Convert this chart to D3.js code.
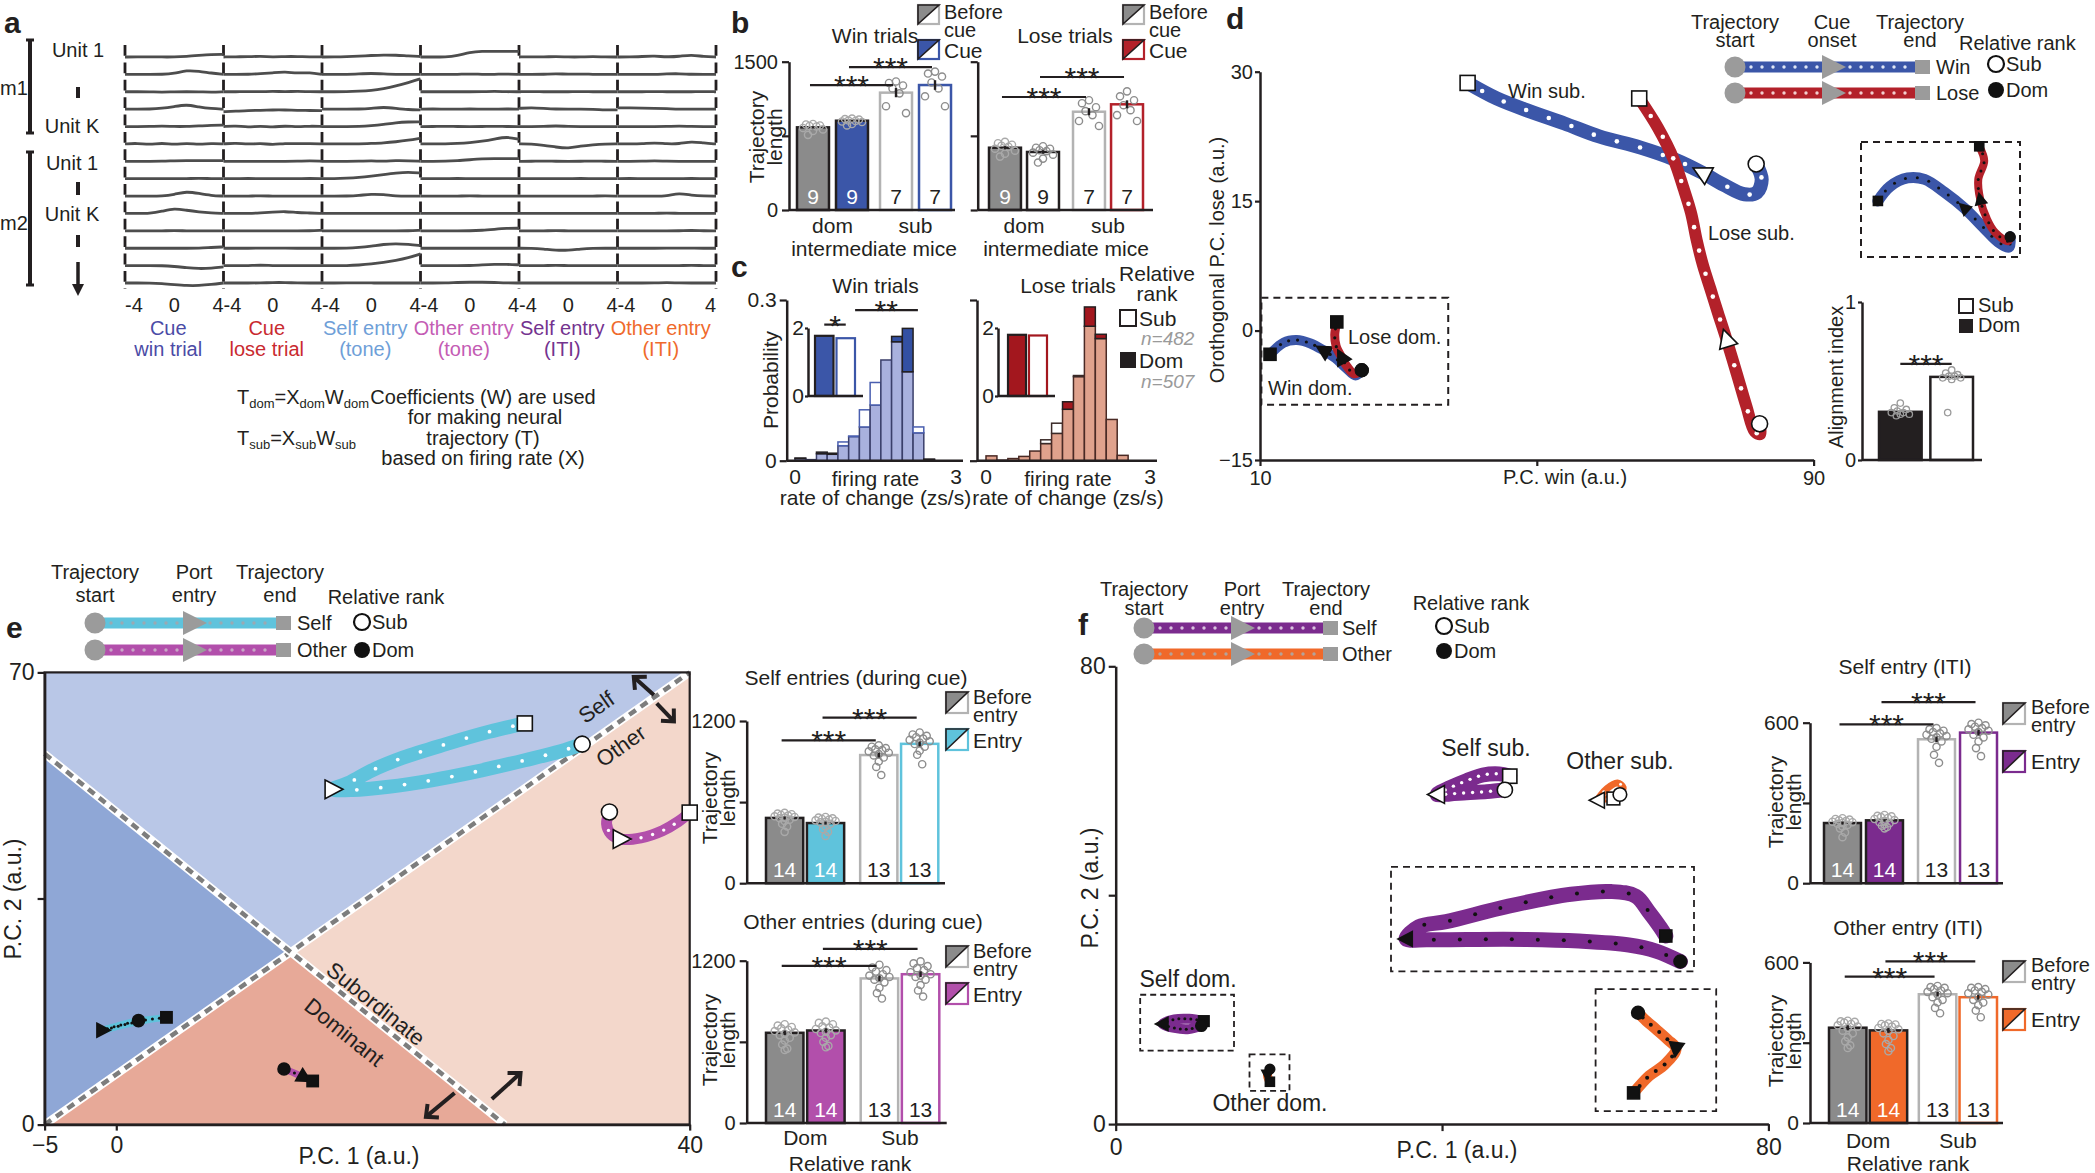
<!DOCTYPE html>
<html><head><meta charset="utf-8"><title>Neural trajectories</title>
<script src="https://cdn.jsdelivr.net/npm/d3@7/dist/d3.min.js"></script>
<style>html,body{margin:0;padding:0;background:#fff;}svg{display:block;}</style>
</head><body>
<script>
/* ===================== DATA ===================== */
// ---- panel a ----
const aSegments = ["Cue|win trial","Cue|lose trial","Self entry|(tone)","Other entry|(tone)","Self entry|(ITI)","Other entry|(ITI)"];
const aSegColors = ["#4b4ba6","#c92a30","#6f9fd8","#c45cb4","#74338f","#ef6a2c"];
const aTime = [-4,-3,-2,-1,0,1,2,3,4];
const aTickLabels = [-4,0,4];
const aRows = [
 [[0,0,0.1,0,0,0.2,0.6,1,1],[0,0.1,0.1,0.3,0,0.2,0.2,0,0.1],[0,0,0.1,0.3,0.6,0.8,0.7,0.4,0.2],[0,0,0,0.5,1.8,2.2,2.2,2.2,2.2],[0,0.1,0,0.2,0,0,0.2,0,0],[0,0,0.2,0.4,0,0.2,0.9,0.1,0]],
 [[0,0,0,0,0.3,1.6,1.2,0.5,0],[0,0,0,0.3,0.6,1,0.4,0.8,0],[0,0,0,0.2,0.4,0.2,0,0,0],[0,0,0,0,0.2,0,0,0.2,0],[0,0,0,0.3,0,0.2,0,0,0],[0,0,0,0,0.2,0.3,0,0,0]],
 [[0,0,0,-0.2,0,0,0,-0.2,0],[0,0,0.1,0,0.2,0,0.2,0,0],[0,0,0,0.2,0.5,1.2,2.2,3.5,5],[0,0,0,0,0,0,0.2,0,0],[0,0.1,0,0,0,0.1,0,0,0],[0,0,0,0.1,0,0,0,0.1,0]],
 [[0,0,0,0.3,1,1.8,0.8,0.2,0],[-1,-0.8,-0.5,-0.5,-0.3,-0.3,-0.5,-0.5,-0.6],[0,0,0,0,0.3,0.8,0.3,-0.2,-0.3],[0,0.1,0,0,0.1,0,0,0.1,0],[0.3,0.6,0.3,0,0,0,0,-0.3,-0.3],[0.5,0.5,0.4,0.3,0.2,0,0,0,0]],
 [[0,0,0,0.2,0,0,0.3,0.4,0.6],[0,0.3,-0.3,0.3,-0.3,0.3,-0.2,0.2,0],[0,0,0,0,0.3,0.8,1.5,1.8,1.8],[0,0,0.1,0,0,0,0.1,0,0],[0,0,0,0.3,0,0,0,0,0],[0,0,0,0,0,0.2,0,0,0]],
 [[0,0.3,-0.3,0.4,-0.3,0.3,-0.2,0.2,0],[0,0.4,-0.2,0.3,-0.4,0.3,0,0.2,0],[0,0,0,0,0.2,0.4,0.8,1.4,2.2],[0,0,0,0.2,0.5,1,1.8,2.8,1.8],[0,0,-0.5,-1.2,-1.8,-0.8,-0.3,0,0],[0,0,0,0.5,0,0,1,0.3,0]],
 [[0,0,0,0,0.2,0.3,0.3,0.3,0.3],[0,0,0,0,0,0,0,0.2,0],[0,0,0,0,0.2,0,0.3,0.2,0],[0,0,0,0.2,0.6,1,1,1,1],[0,0,0.1,0,0,0,0.1,0,0],[0,0,0,0.2,0,0,0,0,0]],
 [[0,0,0,0,0,0,0.2,0,0],[0,0,0.1,0,0,0,0,0.1,0],[0,0,0.2,0.5,1,1.6,2.2,2.6,2.2],[0,0,0,0.1,0,0,0,0,0],[0,0,0,0,0,0.1,0,0,0],[0,0.1,0,0,0,0,0.1,0,0]],
 [[0,0,0,0,0.6,1.8,1,0.2,0],[0,0,0,0.1,0,0,0,0,0],[0,0,0,0.2,0.8,0.6,0,0,0],[0,0,0,0,0.1,0,0,0,0],[0,0,0,0,0,0,0,0.1,0],[0,0,0,0,0,1.2,0.3,0,0]],
 [[0,0,0,0.8,2,1.2,0.6,0.2,0],[0,0,0,0.2,0.5,0.8,0.3,0.2,0],[0,0,0,0,0.1,0,0,0,0],[0,0,0,0,0,0,0.1,0,0],[0,0.1,0,0,0,0,0,0,0],[0,0,0,0,0.2,0,0,0,0]],
 [[0,0,0,0,0.1,0,0,0,0],[0,0,0,0,0,0,0,0,0.2],[0,0,0,0,0,0,0,0,0.2],[0,0,0,0,0,0.2,0.6,1,1],[0,0,0,0.1,0,0,0,0,0],[0,0,0,0,0,0,0.2,0,0]],
 [[0,0,0,0,0,0,0,0.3,0.5],[0,0,0,0,0.1,0,0,0,0],[0,0,0,0.3,0.8,1.5,1.8,1.5,1],[0,0,0,0,0,0,0,0,0],[0,0,-0.3,-0.8,-0.8,-0.3,0,0,0],[0,0,0,0,0,0.1,0,0,0]],
 [[0,0,0,0,-0.3,-0.8,-1.2,-1,-0.5],[0,0,0,0.2,0,0,0,0,0],[0,0,0,0.2,0.6,1.2,2,3,4.5],[0,0,0,0,0,0.3,0.5,0.5,0.3],[0,0,0,0.1,0,0,0,0,0],[0,0,0,0,0,0,0.1,0,0]],
 [[0,0,0,-0.2,-0.6,-1,-1,-0.6,0],[0,0,0,0,0.2,0.2,0,0,0],[0,0,0,0.1,0,0,0,0,0],[0,0,0,0.2,0.3,0.3,0.2,0,0],[0,0,0,0,0,0,0,0,0],[0,0,0,0,0.2,0,0,0,0]]
];

// ---- panel b ----
const bGroups = ["dom","sub"];
const bConds = ["before","cue"];
const bN = [9,9,7,7];
const bWinMeans = [836,903,1187,1264];
const bLoseMeans = [630,587,994,1069];
const bWinPts = [[870,865,855,850,845,830,815,800,760],[925,920,915,905,900,895,890,870,855],[1300,1285,1260,1230,1180,1050,980],[1400,1380,1350,1290,1230,1150,1050]];
const bLosePts = [[690,675,660,650,640,620,600,570,540],[645,630,620,605,595,580,560,520,480],[1110,1080,1040,1000,960,900,850],[1200,1150,1110,1060,1010,960,900]];
const bTicks = [0,750,1500];
const bWinSig = [{a:0,b:2,y:1264,label:"***"},{a:1,b:3,y:1446,label:"***"}];
const bLoseSig = [{a:0,b:2,y:1143,label:"***"},{a:1,b:3,y:1345,label:"***"}];

// ---- panel c ----
const cBinStarts = [0,0.2,0.4,0.6,0.8,1.0,1.2,1.4,1.6,1.8,2.0,2.2,2.4];
const cBinWidth = 0.2;
const cWinDom  = [0.005,0.002,0.016,0.014,0.028,0.045,0.063,0.104,0.188,0.232,0.247,0.052,0.003];
const cWinSub  = [0.004,0.002,0.013,0.012,0.035,0.046,0.095,0.146,0.188,0.222,0.166,0.063,0.002];
const cLoseDom = [0.009,0.001,0.004,0.008,0.018,0.032,0.051,0.110,0.157,0.287,0.236,0.077,0.010];
const cLoseSub = [0.009,0.001,0.004,0.008,0.018,0.039,0.070,0.096,0.159,0.251,0.228,0.077,0.010];
const cInsetWin = [1.77,1.70];
const cInsetLose = [1.80,1.78];
const cN = {sub:"n=482", dom:"n=507"};

// ---- panel d ----
const dWinSub  = [[81.7,19.3],[82.5,17.5],[81.8,16.0],[80,15.8],[77,16.9],[73.9,18.3],[70,19.8],[65,21.2],[59,22.5],[54,24.0],[49,25.4],[44.2,26.9],[40,28.7]];
const dLoseSub = [[82.2,-10.8],[82.3,-12.0],[81.5,-11.7],[80.3,-8.8],[78.9,-5.0],[77.4,-1.0],[76.2,2.0],[75.1,4.8],[74.0,7.6],[73.1,10.5],[72.3,13.6],[71.2,16.5],[69.8,19.8],[67.5,23.5],[64.8,26.9]];
const dWinDom  = [[24.7,-4.6],[23.8,-5.2],[22.4,-4.3],[20.9,-3.2],[19.2,-2.3],[17.3,-1.5],[15.3,-1.1],[13.4,-1.4],[11.45,-2.75]];
const dLoseDom = [[24.7,-4.6],[23.6,-5.0],[22.6,-4.2],[21.8,-3.1],[21.0,-1.8],[20.8,-0.5],[21.1,1.0]];
const dInsetWin  = [[25.5,-4.6],[25.4,-5.3],[24.4,-5.0],[22.9,-4.0],[20.9,-2.6],[18.9,-1.5],[16.9,-0.6],[15.2,-0.5],[13.4,-1.1],[12.2,-2.1]];
const dInsetLose = [[25.5,-4.6],[25.3,-4.9],[24.0,-4.3],[23.2,-3.4],[22.5,-2.0],[22.3,-0.6],[22.9,0.7],[22.4,1.7]];
const dCue = {winSub:5, loseSub:5, winDom:4, loseDom:3, insetWin:4, insetLose:4};
const dDomBox = {x:[10.2,37.2], y:[-8.6,3.8]};
const dAlignGroups = ["Dom","Sub"];
const dAlignMeans = [0.305,0.526];
const dAlignPts = [[0.36,0.33,0.32,0.31,0.30,0.30,0.29,0.29,0.28],[0.57,0.55,0.54,0.53,0.53,0.52,0.52,0.51,0.30]];

// ---- panel e ----
const eBoundSelfOther = [[-5,0],[40,70]];
const eBoundSubDom = [[-5,57.4],[27.1,0]];
const eSelfSub  = [[32.5,58.9],[31,57.8],[28.5,56.4],[25,54.6],[22,53.3],[19,52.3],[16.5,51.8],[15.1,51.9],[16.3,53],[17.8,54.8],[20,56.8],[23,58.9],[26,60.8],[28.5,62.1]];
const eOtherSub = [[34.4,48.4],[34.2,46.6],[34.5,45.0],[35.2,44.2],[36.6,44.4],[38.1,45.5],[39.2,46.9],[40,48.3]];
const eSelfDom  = [[1.55,16.1],[0.6,15.6],[-0.95,14.6],[0.6,15.5],[2.1,16.2],[3.5,16.6]];
const eOtherDom = [[11.7,8.6],[12.4,8.0],[13.1,7.3],[13.7,6.75]];
const eCue = {selfSub:7, otherSub:3, selfDom:2, otherDom:2};
const eArrows = [[[37.5,66.5],[36.1,69.3]],[[37.7,65.2],[38.9,62.4]],[[23.6,4.9],[21.6,1.2]],[[26.2,3.95],[28.2,7.98]]];
const eN = [14,14,13,13];
const eSelfMeans = [483,445,948,1031];
const eOtherMeans = [667,684,1069,1100];
const eSelfPts = [[520,515,510,505,500,495,490,485,480,470,460,440,420,380],[490,485,480,475,470,465,460,455,450,440,420,400,380,350],[1020,1010,1000,990,985,975,965,955,945,930,900,860,800],[1115,1100,1090,1080,1070,1060,1050,1040,1030,1010,980,950,880]];
const eOtherPts = [[730,720,710,700,690,680,670,660,650,630,610,580,550,540],[750,740,730,715,705,695,685,675,665,650,630,600,570,560],[1170,1150,1130,1120,1100,1090,1080,1070,1060,1040,1000,960,920],[1195,1180,1160,1145,1130,1115,1100,1090,1080,1060,1020,980,935]];
const eTicks = [0,600,1200];
const eSelfSig = [{a:0,b:2,y:1057,label:"***"},{a:1,b:3,y:1225,label:"***"}];
const eOtherSig = [{a:0,b:2,y:1161,label:"***"},{a:1,b:3,y:1288,label:"***"}];

// ---- panel f ----
const fSelfSub  = [[47.7,58.4],[45.5,58.1],[43,57.9],[41,57.7],[39.4,57.6],[41,58.8],[43,60],[45,61],[47,61.2],[48.3,60.8]];
const fOtherSub = [[61.8,57.6],[62.2,58.8],[61.5,59.6],[60.2,58.6],[59.1,56.6],[60,56.8],[61,56.9]];
const fSelfDom  = [[10.5,17.2],[9,16.6],[7.2,16.8],[5.75,17.5],[7.2,18.3],[9,18.4],[10.8,18]];
const fOtherDom = [[18.9,9.6],[18.6,8.6],[18.9,7.4]];
const fSelfDomInset  = [[95.5,9.4],[87.5,19.4],[78.5,25.2],[62,29],[44.7,30.5],[25,30.5],[12,30.2],[5,31],[9.2,42.7],[18.2,47.6],[38.8,62.5],[59.4,73.8],[72.6,76.4],[80.8,71.9],[85.1,57],[88.9,42],[90.7,33.8]];
const fOtherDomInset = [[35.2,80.7],[42,74],[50,67.3],[60,58.5],[66.7,51.2],[57.4,38.4],[44.4,28.9],[31.5,15]];
const fCue = {selfSub:4, otherSub:4, selfDom:3, otherDom:1, selfInset:7, otherInset:4};
const fSelfDomBox = {x:[3.0,14.5], y:[12.85,22.6]};
const fOtherDomBox = {x:[16.4,21.3], y:[5.8,12.2]};
const fSelfMeans = [225,235,538,563];
const fOtherMeans = [356,346,481,470];
const fSelfPts = [[243,240,238,235,232,230,228,225,222,218,212,205,190,172],[255,252,250,247,244,240,236,232,228,224,220,215,210,205],[580,575,570,565,560,555,550,545,540,530,510,480,450],[600,595,590,585,580,575,570,565,555,545,530,505,475]];
const fOtherPts = [[382,380,378,375,370,365,360,355,345,335,320,305,290,280],[372,370,368,365,360,355,350,345,335,325,310,295,280,268],[512,508,505,500,495,490,485,480,470,460,450,430,410],[508,505,500,495,490,485,480,470,460,450,440,420,395]];
const fTicks = [0,300,600];
const fSelfSig = [{a:0,b:2,y:594,label:"***"},{a:1,b:3,y:677,label:"***"}];
const fOtherSig = [{a:0,b:2,y:547,label:"***"},{a:1,b:3,y:604,label:"***"}];

/* ===================== DRAWING ===================== */
const FONT = "'Liberation Sans', Arial, Helvetica, sans-serif";
const INK = "#231f20";
const GRAYBAR = "#8b8b8b", LIGHTEDGE = "#b3b3b3";
const BLUE = "#3b56a8", RED = "#b3212a", CYAN = "#5fc3dc", MAG = "#b24fab", PURP = "#7b2b8e", ORNG = "#f0692a";

const svg = d3.select("body").append("svg").attr("width",2095).attr("height",1173).attr("font-family",FONT);
svg.append("rect").attr("width",2095).attr("height",1173).attr("fill","#fff");

function T(g,x,y,s,o={}){
  const t=g.append("text").attr("x",x).attr("y",y).attr("font-size",o.size||20)
    .attr("text-anchor",o.anchor||"start").attr("dominant-baseline",o.base||"central")
    .attr("fill",o.fill||INK);
  if(o.weight) t.attr("font-weight",o.weight);
  if(o.italic) t.attr("font-style","italic");
  if(o.rot) t.attr("transform",`rotate(${o.rot},${x},${y})`);
  t.text(s); return t;
}
function styleAxis(a,size){
  a.select(".domain").attr("stroke",INK).attr("stroke-width",2.5);
  a.selectAll(".tick line").attr("stroke",INK).attr("stroke-width",2.2);
  a.selectAll(".tick text").attr("font-size",size||20).attr("fill",INK).attr("font-family",FONT);
  return a;
}
function seg(g,x1,y1,x2,y2,c,w,dash){
  const l=g.append("line").attr("x1",x1).attr("y1",y1).attr("x2",x2).attr("y2",y2).attr("stroke",c||INK).attr("stroke-width",w||2.2);
  if(dash) l.attr("stroke-dasharray",dash); return l;
}
function stars(g,x,lineY,s){ T(g,x,lineY+11,s,{size:30,anchor:"middle",base:"auto"}); }
function splitSquare(g,x,y,w,h,fillC,edgeC){
  g.append("rect").attr("x",x).attr("y",y).attr("width",w).attr("height",h).attr("fill","#fff").attr("stroke",edgeC).attr("stroke-width",2.2);
  g.append("path").attr("d",`M${x},${y}H${x+w}L${x},${y+h}Z`).attr("fill",fillC).attr("stroke",INK).attr("stroke-width",1.6);
}
function twoLine(g,x,y,l1,l2,size){ T(g,x,y,l1,{size}); T(g,x,y+18,l2,{size}); }

/* ---------- generic bar chart ---------- */
function barChart(g,o){
  const y=d3.scaleLinear().domain([0,o.max]).range([o.y0,o.yTop]);
  const gx=d3.scaleBand().domain(o.groups).range(o.range).paddingInner(o.gPad);
  const cx=d3.scaleBand().domain(o.conds).range([0,gx.bandwidth()]).paddingInner(o.cPad);
  const jit=[0,-7,7,-3.5,3.5,-10,10,0,-5,5,0,-2.5,2.5,0];
  const centers=[];
  o.groups.forEach((gr,gi)=>o.conds.forEach((c,ci)=>{
    const k=gi*o.conds.length+ci, st=o.styles[k];
    const x0=gx(gr)+cx(c), w=cx.bandwidth(), xc=x0+w/2;
    centers.push(xc);
    g.append("rect").attr("x",x0).attr("y",y(o.means[k])).attr("width",w).attr("height",y(0)-y(o.means[k]))
      .attr("fill",st.fill).attr("stroke",st.stroke).attr("stroke-width",2.5);
    const pts=o.pts[k], sem=d3.deviation(pts)/Math.sqrt(pts.length);
    pts.forEach((v,i)=>g.append("circle").attr("cx",xc+jit[i%jit.length]).attr("cy",y(v)).attr("r",3.6)
      .attr("fill","none").attr("stroke",st.dot||"#8d8d8d").attr("stroke-width",1.4));
    seg(g,xc,y(o.means[k]-sem),xc,y(o.means[k]+sem),INK,2.4);
    T(g,xc,y(0)-14,o.n[k],{size:21,anchor:"middle",fill:st.nFill});
  }));
  const ax=d3.axisLeft(y).tickValues(o.ticks).tickFormat((d,i)=>o.tickLabels[i]).tickSize(7).tickSizeOuter(0).tickPadding(4);
  styleAxis(g.append("g").attr("transform",`translate(${o.axisX},0)`).call(ax),o.tickSize||20);
  seg(g,o.axisX,y(0),o.axisEnd,y(0),INK,2.5);
  o.sig.forEach(s=>{
    const x1=centers[s.a]-3, x2=centers[s.b]-3, yy=y(s.y);
    seg(g,x1,yy,x2,yy,INK,2.2);
    stars(g,(x1+x2)/2,yy,s.label);
  });
  return {y,gx,centers};
}
const styleGray={fill:GRAYBAR,stroke:INK,nFill:"#fff",dot:"#a9a9a9"};
const styleWhiteGray={fill:"#fff",stroke:LIGHTEDGE,nFill:INK};
function filled(c){return {fill:c,stroke:INK,nFill:"#fff",dot:"#a9a9a9"};}
function open(c){return {fill:"#fff",stroke:c,nFill:INK};}

/* ---------- trajectories ---------- */
function traj(g,pts,cue,xs,ys,o){
  const line=d3.line().x(d=>xs(d[0])).y(d=>ys(d[1])).curve(d3.curveCatmullRom.alpha(0.5));
  const p=g.append("path").attr("d",line(pts)).attr("fill","none").attr("stroke",o.color)
    .attr("stroke-width",o.width).attr("stroke-linecap","round").attr("stroke-linejoin","round");
  const node=p.node(), L=node.getTotalLength();
  d3.range(o.gap*0.6,L-o.gap*0.3,o.gap).forEach(l=>{
    const q=node.getPointAtLength(l);
    g.append("circle").attr("cx",q.x).attr("cy",q.y).attr("r",o.dotR).attr("fill",o.dot);
  });
  const mf=o.open?"#fff":"#111", ms=o.ms||1;
  const c=pts[cue], a=pts[Math.max(0,cue-1)], b=pts[Math.min(pts.length-1,cue+1)];
  const ang=o.triAngle!==undefined?o.triAngle:Math.atan2(ys(b[1])-ys(a[1]),xs(b[0])-xs(a[0]))*180/Math.PI;
  const ts=17*ms;
  g.append("path").attr("d",`M${-ts*0.45},${-ts*0.55}L${ts*0.6},0L${-ts*0.45},${ts*0.55}Z`)
    .attr("transform",`translate(${xs(c[0])},${ys(c[1])}) rotate(${ang})`)
    .attr("fill",mf).attr("stroke","#111").attr("stroke-width",1.6);
  const e=pts[pts.length-1], sq=15*ms;
  g.append("rect").attr("x",xs(e[0])-sq/2).attr("y",ys(e[1])-sq/2).attr("width",sq).attr("height",sq)
    .attr("fill",mf).attr("stroke","#111").attr("stroke-width",1.6);
  const s=pts[0];
  g.append("circle").attr("cx",xs(s[0])).attr("cy",ys(s[1])).attr("r",8*ms).attr("fill",mf).attr("stroke","#111").attr("stroke-width",1.6);
}
function trajLegend(g,o){
  o.rows.forEach(r=>{
    seg(g,o.cx,r.y,o.sx,r.y,r.color,11);
    d3.range(o.cx+16,o.sx-4,11).forEach(x=>g.append("circle").attr("cx",x).attr("cy",r.y).attr("r",1.7).attr("fill",r.dot));
    g.append("circle").attr("cx",o.cx).attr("cy",r.y).attr("r",10.5).attr("fill","#9b9b9b");
    g.append("path").attr("d",`M${o.tx-11},${r.y-12}L${o.tx+13},${r.y}L${o.tx-11},${r.y+12}Z`).attr("fill","#9b9b9b");
    g.append("rect").attr("x",o.sx-3).attr("y",r.y-7).attr("width",15).attr("height",14).attr("fill","#9b9b9b");
    T(g,o.labelX,r.y,r.label,{size:20});
  });
  o.heads.forEach(h=>h.lines.forEach((s,i)=>T(g,h.x,o.headY[i],s,{size:20,anchor:"middle"})));
}
function rankLegend(g,x,y1,y2,r){
  g.append("circle").attr("cx",x).attr("cy",y1).attr("r",r).attr("fill","#fff").attr("stroke","#111").attr("stroke-width",2.2);
  g.append("circle").attr("cx",x).attr("cy",y2).attr("r",r).attr("fill","#111");
  T(g,x+r+2,y1,"Sub",{size:20}); T(g,x+r+2,y2,"Dom",{size:20});
}

/* ===================== PANEL A ===================== */
{
  const g=svg.append("g");
  T(g,4,22,"a",{size:30,weight:"bold"});
  const sb=d3.scaleBand().domain(d3.range(aSegments.length)).range([125,716]);
  const rowY=d3.scalePoint().domain(d3.range(aRows.length)).range([57,283]);
  const amp=d3.scaleLinear().domain([0,1]).range([0,-2.6]);
  const line=d3.line().curve(d3.curveBasis);
  const sepX=d3.range(aSegments.length).map(s=>sb(s)).concat([sb(aSegments.length-1)+sb.bandwidth()]);
  const step=rowY.step();
  sepX.forEach(x=>seg(g,x,rowY(0)-12,x,rowY(aRows.length-1)+6,INK,2.8,`${step*0.62},${step*0.38}`));
  aRows.forEach((row,r)=>{
    row.forEach((vals,s)=>{
      const tx=d3.scaleLinear().domain([aTime[0],aTime[aTime.length-1]]).range([sb(s),sb(s)+sb.bandwidth()]);
      g.append("path").attr("d",line(vals.map((v,i)=>[tx(aTime[i]),rowY(r)+amp(v)])))
        .attr("fill","none").attr("stroke","#4d4d4d").attr("stroke-width",2.8);
    });
  });
  aSegments.forEach((lab,s)=>{
    const tx=d3.scaleLinear().domain([-4,4]).range([sb(s),sb(s)+sb.bandwidth()]);
    aTickLabels.forEach(t=>T(g,tx(t),305,t,{size:20,anchor:t<0?"start":(t>0?"end":"middle")}));
    const [l1,l2]=lab.split("|"), xc=sb(s)+sb.bandwidth()/2-6;
    T(g,xc,328,l1,{anchor:"middle",fill:aSegColors[s]});
    T(g,xc,349,l2,{anchor:"middle",fill:aSegColors[s]});
  });
  [[40,133,"m1",88],[152,285,"m2",223]].forEach(([y1,y2,lab,ly])=>{
    seg(g,30,y1,30,y2,INK,4); seg(g,26,y1,34,y1,INK,3); seg(g,26,y2,34,y2,INK,3);
    T(g,0,ly,lab,{size:20});
  });
  T(g,78,50,"Unit 1",{anchor:"middle"}); T(g,72,126,"Unit K",{anchor:"middle"});
  T(g,72,163,"Unit 1",{anchor:"middle"}); T(g,72,214,"Unit K",{anchor:"middle"});
  [[87,98],[182,195],[235,247]].forEach(([a,b])=>seg(g,78,a,78,b,INK,4));
  seg(g,78,262,78,288,INK,3.5);
  g.append("path").attr("d","M72,284L84,284L78,296Z").attr("fill",INK);
  const f1=g.append("text").attr("x",237).attr("y",397).attr("font-size",20).attr("dominant-baseline","central").attr("fill",INK);
  [["T",0],["dom",1],["=X",0],["dom",1],["W",0],["dom",1]].forEach(([s,sub])=>f1.append("tspan").text(s).attr("font-size",sub?13:20).attr("dy",sub?6:(s==="T"?0:-6)));
  const f2=g.append("text").attr("x",237).attr("y",438).attr("font-size",20).attr("dominant-baseline","central").attr("fill",INK);
  [["T",0],["sub",1],["=X",0],["sub",1],["W",0],["sub",1]].forEach(([s,sub])=>f2.append("tspan").text(s).attr("font-size",sub?13:20).attr("dy",sub?6:(s==="T"?0:-6)));
  T(g,483,397,"Coefficients (W) are used",{anchor:"middle"});
  T(g,485,417,"for making neural",{anchor:"middle"});
  T(g,483,438,"trajectory (T)",{anchor:"middle"});
  T(g,483,458,"based on firing rate (X)",{anchor:"middle"});
}

/* ===================== PANEL B ===================== */
{
  const g=svg.append("g");
  T(g,731,22,"b",{size:30,weight:"bold"});
  const win=barChart(g,{max:1500,y0:210,yTop:61.7,axisX:789,axisEnd:955,range:[797,951],gPad:0.145,cPad:0.18,
    groups:bGroups,conds:bConds,means:bWinMeans,pts:bWinPts,n:bN,ticks:bTicks,tickLabels:["0","","1500"],
    styles:[styleGray,filled(BLUE),styleWhiteGray,open(BLUE)],sig:bWinSig});
  const lose=barChart(g,{max:1500,y0:210,yTop:61.7,axisX:977.7,axisEnd:1153,range:[989,1143],gPad:0.167,cPad:0.16,
    groups:bGroups,conds:bConds,means:bLoseMeans,pts:bLosePts,n:bN,ticks:bTicks,tickLabels:["","",""],
    styles:[styleGray,{fill:"#fff",stroke:INK,nFill:INK},styleWhiteGray,open(RED)],sig:bLoseSig});
  T(g,756,137,"Trajectory",{size:21,anchor:"middle",rot:-90});
  T(g,774,137,"length",{size:21,anchor:"middle",rot:-90});
  [[win,875,"Win trials",918,BLUE],[lose,1065,"Lose trials",1123,RED]].forEach(([ch,tx,title,lx,col])=>{
    T(g,tx,35,title,{size:21,anchor:"middle"});
    splitSquare(g,lx,5,21,19,GRAYBAR,LIGHTEDGE); splitSquare(g,lx,40,21,19,col,col);
    twoLine(g,lx+26,12,"Before","cue",20); T(g,lx+26,50,"Cue",{size:21});
    bGroups.forEach(gr=>T(g,ch.gx(gr)+ch.gx.bandwidth()/2,225,gr,{size:21,anchor:"middle"}));
    T(g,(ch.gx.range()[0]+ch.gx.range()[1])/2,248,"intermediate mice",{size:21,anchor:"middle"});
  });
}

/* ===================== PANEL C ===================== */
{
  const g=svg.append("g");
  T(g,731,266,"c",{size:30,weight:"bold"});
  function hist(o){
    const x=d3.scaleLinear().domain([0,3]).range(o.xr);
    const y=d3.scaleLinear().domain([0,0.3]).range([460.7,300]);
    cBinStarts.forEach((b,k)=>{
      const d=o.dom[k], s=o.sub[k], lo=Math.min(d,s);
      const xa=x(b), xb=x(b+cBinWidth);
      const R=(v0,v1,fill,st)=>g.append("rect").attr("x",xa).attr("y",y(v1)).attr("width",xb-xa).attr("height",y(v0)-y(v1))
        .attr("fill",fill).attr("stroke",st||INK).attr("stroke-width",1.5);
      R(0,lo,o.overlap,o.overlapEdge);
      if(d>s) R(s,d,o.domC); else if(s>d) R(d,s,"#fff",o.subEdge);
    });
    const ax=d3.axisLeft(y).tickValues([0,0.3]).tickFormat((d,i)=>o.tickLabels[i]).tickSize(7).tickSizeOuter(0).tickPadding(3);
    styleAxis(g.append("g").attr("transform",`translate(${o.axisX},0)`).call(ax),21);
    seg(g,o.axisX,y(0),o.axisEnd,y(0),INK,2.5);
    T(g,x(0),476,"0",{size:21,anchor:"middle"}); T(g,x(3),476,"3",{size:21,anchor:"middle"});
    T(g,x(1.5),478,"firing rate",{size:21,anchor:"middle"});
    T(g,x(1.5),497,"rate of change (zs/s)",{size:21,anchor:"middle"});
    T(g,x(1.5),285,o.title,{size:21,anchor:"middle"});
    const iy=d3.scaleLinear().domain([0,2]).range([396,328]);
    const ib=d3.scaleBand().domain(["dom","sub"]).range(o.insetRange).paddingInner(0.14);
    g.append("rect").attr("x",ib("dom")).attr("y",iy(o.inset[0])).attr("width",ib.bandwidth()).attr("height",iy(0)-iy(o.inset[0])).attr("fill",o.insetC).attr("stroke",INK).attr("stroke-width",2.2);
    g.append("rect").attr("x",ib("sub")).attr("y",iy(o.inset[1])).attr("width",ib.bandwidth()).attr("height",iy(0)-iy(o.inset[1])).attr("fill","#fff").attr("stroke",o.insetC).attr("stroke-width",2.2);
    const iax=d3.axisLeft(iy).tickValues([0,2]).tickFormat(d=>d).tickSize(3).tickSizeOuter(0).tickPadding(1);
    styleAxis(g.append("g").attr("transform",`translate(${o.insetAxisX},0)`).call(iax),21);
    seg(g,o.insetAxisX,iy(0),o.insetEnd,iy(0),INK,2.5);
    return {x,y,iy,ib};
  }
  const w=hist({xr:[795,956],axisX:786.7,axisEnd:963,dom:cWinDom,sub:cWinSub,overlap:"#a9b1de",overlapEdge:"#3a3f6a",subEdge:"#4a5fb0",domC:"#3350a3",tickLabels:["0","0.3"],
    title:"Win trials",inset:cInsetWin,insetC:BLUE,insetRange:[815,855],insetAxisX:808,insetEnd:863});
  const l=hist({xr:[986,1150],axisX:977,axisEnd:1157,dom:cLoseDom,sub:cLoseSub,overlap:"#e0a28d",overlapEdge:"#4a2a25",subEdge:"#3a2a28",domC:"#a3171e",tickLabels:["",""],
    title:"Lose trials",inset:cInsetLose,insetC:"#a3171e",insetRange:[1008,1047],insetAxisX:998,insetEnd:1055});
  const s1a=w.ib("dom")+w.ib.bandwidth()/2, s1b=w.ib("sub")+w.ib.bandwidth()/2;
  seg(g,s1a,w.iy(2.1),s1b,w.iy(2.1),INK,2.2); stars(g,(s1a+s1b)/2,w.iy(2.1),"*");
  seg(g,w.x(1.12),w.y(0.281),w.x(2.29),w.y(0.281),INK,2.2); stars(g,w.x(1.7),w.y(0.281),"**");
  T(g,770,380,"Probability",{size:21,anchor:"middle",rot:-90});
  T(g,1157,273,"Relative",{size:21,anchor:"middle"}); T(g,1157,293,"rank",{size:21,anchor:"middle"});
  g.append("rect").attr("x",1120).attr("y",310).attr("width",16).attr("height",16).attr("fill","#fff").attr("stroke",INK).attr("stroke-width",2);
  g.append("rect").attr("x",1120).attr("y",352).attr("width",16).attr("height",16).attr("fill",INK);
  T(g,1139,318,"Sub",{size:21}); T(g,1139,360,"Dom",{size:21});
  T(g,1141,338,cN.sub,{size:19,italic:true,fill:"#9a9a9a"}); T(g,1141,381,cN.dom,{size:19,italic:true,fill:"#9a9a9a"});
}

/* ===================== PANEL D ===================== */
{
  const g=svg.append("g");
  T(g,1226,18,"d",{size:30,weight:"bold"});
  const x=d3.scaleLinear().domain([10,90]).range([1260,1813.6]);
  const y=d3.scaleLinear().domain([-15,30]).range([460,71.7]);
  styleAxis(g.append("g").attr("transform","translate(1260,0)").call(d3.axisLeft(y).tickValues([-15,0,15,30]).tickSize(5).tickSizeOuter(0).tickPadding(2)),20);
  styleAxis(g.append("g").attr("transform","translate(0,460)").call(d3.axisBottom(x).tickValues([10,50,90]).tickFormat(d=>d===50?"":d).tickSize(6).tickSizeOuter(0).tickPadding(5)),20);
  T(g,1565,477,"P.C. win (a.u.)",{anchor:"middle"});
  T(g,1217,260,"Orothogonal P.C. lose (a.u.)",{anchor:"middle",rot:-90});
  g.append("rect").attr("x",x(dDomBox.x[0])).attr("y",y(dDomBox.y[1])).attr("width",x(dDomBox.x[1])-x(dDomBox.x[0])).attr("height",y(dDomBox.y[0])-y(dDomBox.y[1]))
    .attr("fill","none").attr("stroke",INK).attr("stroke-width",2).attr("stroke-dasharray","7,5");
  traj(g,dWinSub,dCue.winSub,x,y,{color:BLUE,width:14,gap:24,dotR:2.3,dot:"#fff",open:true});
  traj(g,dLoseSub,dCue.loseSub,x,y,{color:RED,width:12,gap:24,dotR:2.3,dot:"#fff",open:true});
  traj(g,dWinDom,dCue.winDom,x,y,{color:BLUE,width:10,gap:9,dotR:1.6,dot:"#111",open:false,ms:0.8});
  traj(g,dLoseDom,dCue.loseDom,x,y,{color:RED,width:9,gap:9,dotR:1.6,dot:"#111",open:false,ms:0.8});
  T(g,1508,91,"Win sub."); T(g,1708,233,"Lose sub.");
  T(g,1348,337,"Lose dom."); T(g,1268,388,"Win dom.");
  const ix=d3.scaleLinear().domain([10.5,26.5]).range([1861,2020]);
  const iy=d3.scaleLinear().domain([-6,2]).range([257,142]);
  g.append("rect").attr("x",1861).attr("y",142).attr("width",159).attr("height",115).attr("fill","none").attr("stroke",INK).attr("stroke-width",2).attr("stroke-dasharray","7,5");
  traj(g,dInsetWin,dCue.insetWin,ix,iy,{color:BLUE,width:11,gap:12,dotR:1.5,dot:"#111",open:false,ms:0.6});
  traj(g,dInsetLose,dCue.insetLose,ix,iy,{color:RED,width:8,gap:9,dotR:1.5,dot:"#111",open:false,ms:0.6});
  trajLegend(g,{cx:1735,tx:1833,sx:1918,labelX:1936,headY:[22,40],
    rows:[{y:67,color:BLUE,dot:"#dfe6f5",label:"Win"},{y:93,color:RED,dot:"#f3d0d0",label:"Lose"}],
    heads:[{x:1735,lines:["Trajectory","start"]},{x:1832,lines:["Cue","onset"]},{x:1920,lines:["Trajectory","end"]}]});
  T(g,1959,43,"Relative rank");
  rankLegend(g,1996,64,90,8);
  const ay=d3.scaleLinear().domain([0,1]).range([460,302]);
  const ab=d3.scaleBand().domain(dAlignGroups).range([1879,1973]).paddingInner(0.17);
  const st=[{fill:"#231f20",stroke:INK},{fill:"#fff",stroke:INK}];
  dAlignGroups.forEach((gr,i)=>{
    g.append("rect").attr("x",ab(gr)).attr("y",ay(dAlignMeans[i])).attr("width",ab.bandwidth()).attr("height",ay(0)-ay(dAlignMeans[i])).attr("fill",st[i].fill).attr("stroke",st[i].stroke).attr("stroke-width",2.5);
    const xc=ab(gr)+ab.bandwidth()/2, jit=[0,-6,6,-3,3,-9,9,0,-4];
    dAlignPts[i].forEach((v,k)=>g.append("circle").attr("cx",xc+jit[k]).attr("cy",ay(v)).attr("r",3.2).attr("fill","none").attr("stroke","#9a9a9a").attr("stroke-width",1.3));
  });
  styleAxis(g.append("g").attr("transform","translate(1862,0)").call(d3.axisLeft(ay).tickValues([0,1]).tickFormat(d3.format("d")).tickSize(4).tickSizeOuter(0).tickPadding(2)),20);
  seg(g,1862,ay(0),1982,ay(0),INK,2.5);
  const sa=ab("Dom")+ab.bandwidth()/2, sbx=ab("Sub")+ab.bandwidth()/2;
  seg(g,sa,ay(0.608),sbx,ay(0.608),INK,2.2); stars(g,(sa+sbx)/2,ay(0.608),"***");
  T(g,1836,377,"Alignment index",{anchor:"middle",rot:-90});
  g.append("rect").attr("x",1959).attr("y",299).attr("width",14).attr("height",14).attr("fill","#fff").attr("stroke",INK).attr("stroke-width",2);
  g.append("rect").attr("x",1959).attr("y",319).attr("width",14).attr("height",14).attr("fill",INK);
  T(g,1978,305,"Sub"); T(g,1978,325,"Dom");
}

/* ===================== PANEL E ===================== */
{
  const g=svg.append("g");
  T(g,6,627,"e",{size:30,weight:"bold"});
  const x=d3.scaleLinear().domain([-5,40]).range([44.6,689.7]);
  const y=d3.scaleLinear().domain([0,70]).range([1124.6,672.4]);
  const so=eBoundSelfOther, sd=eBoundSubDom;
  const inter=(p,q)=>{const [[x1,y1],[x2,y2]]=p,[[x3,y3],[x4,y4]]=q;const d=(x1-x2)*(y3-y4)-(y1-y2)*(x3-x4);const a=x1*y2-y1*x2,b=x3*y4-y3*x4;return [(a*(x3-x4)-(x1-x2)*b)/d,(a*(y3-y4)-(y1-y2)*b)/d];};
  const P=inter(so,sd), [xmin,xmax]=x.domain(), [ymin,ymax]=y.domain();
  const poly=d3.line().x(d=>x(d[0])).y(d=>y(d[1]));
  [[[sd[0],[xmin,ymax],[xmax,ymax],P],"#b9c7e7"],[[so[0],P,sd[0]],"#8fa7d6"],[[so[0],sd[1],P],"#e7a998"],[[sd[1],[xmax,ymin],[xmax,ymax],P],"#f3d7cb"]]
    .forEach(([pts,c])=>g.append("path").attr("d",poly(pts)+"Z").attr("fill",c));
  [so,sd].forEach(L=>{
    g.append("path").attr("d",poly(L)).attr("stroke","#fff").attr("stroke-width",8);
    g.append("path").attr("d",poly(L)).attr("stroke","#7d7d7d").attr("stroke-width",4.5).attr("stroke-dasharray","8,6");
  });
  g.append("rect").attr("x",x(xmin)).attr("y",y(ymax)).attr("width",x(xmax)-x(xmin)).attr("height",y(ymin)-y(ymax)).attr("fill","none").attr("stroke",INK).attr("stroke-width",2.2);
  styleAxis(g.append("g").attr("transform",`translate(${x(xmin)},0)`).call(d3.axisLeft(y).tickValues([0,35,70]).tickFormat(d=>d===35?"":d).tickSize(7).tickSizeOuter(0).tickPadding(3)),23);
  styleAxis(g.append("g").attr("transform",`translate(0,${y(ymin)})`).call(d3.axisBottom(x).tickValues([-5,0,40]).tickSize(6).tickSizeOuter(0).tickPadding(6)),23);
  T(g,359,1156,"P.C. 1 (a.u.)",{size:23,anchor:"middle"});
  T(g,13,899,"P.C. 2 (a.u.)",{size:23,anchor:"middle",rot:-90});
  const angSO=Math.atan2(y(so[1][1])-y(so[0][1]),x(so[1][0])-x(so[0][0]))*180/Math.PI;
  const angSD=Math.atan2(y(sd[1][1])-y(sd[0][1]),x(sd[1][0])-x(sd[0][0]))*180/Math.PI;
  T(g,x(33.5),y(64.6),"Self",{size:22,anchor:"middle",rot:angSO});
  T(g,x(35.2),y(58.6),"Other",{size:22,anchor:"middle",rot:angSO});
  T(g,x(18.1),y(18.7),"Subordinate",{size:22,anchor:"middle",rot:angSD});
  T(g,x(15.9),y(14.3),"Dominant",{size:22,anchor:"middle",rot:angSD});
  eArrows.forEach(([t,h])=>{
    const x1=x(t[0]),y1=y(t[1]),x2=x(h[0]),y2=y(h[1]), a=Math.atan2(y2-y1,x2-x1);
    seg(g,x1,y1,x2,y2,INK,4);
    const hl=13;
    g.append("path").attr("d",`M${x2-hl*Math.cos(a-0.75)},${y2-hl*Math.sin(a-0.75)}L${x2},${y2}L${x2-hl*Math.cos(a+0.75)},${y2-hl*Math.sin(a+0.75)}`)
      .attr("fill","none").attr("stroke",INK).attr("stroke-width",4).attr("stroke-linejoin","miter");
  });
  traj(g,eSelfSub,eCue.selfSub,x,y,{color:CYAN,width:14,gap:24,dotR:1.9,dot:"#fff",open:true,triAngle:0});
  traj(g,eOtherSub,eCue.otherSub,x,y,{color:MAG,width:11,gap:12,dotR:1.7,dot:"#fff",open:true,triAngle:0});
  traj(g,eSelfDom,eCue.selfDom,x,y,{color:CYAN,width:7,gap:7,dotR:1.5,dot:"#111",open:false,ms:0.75,triAngle:0});
  traj(g,eOtherDom,eCue.otherDom,x,y,{color:MAG,width:7,gap:7,dotR:1.5,dot:"#111",open:false,ms:0.75,triAngle:30});
  trajLegend(g,{cx:95,tx:194,sx:279,labelX:297,headY:[572,595],
    rows:[{y:623,color:CYAN,dot:"#9aa9b3",label:"Self"},{y:650,color:MAG,dot:"#c9a8c7",label:"Other"}],
    heads:[{x:95,lines:["Trajectory","start"]},{x:194,lines:["Port","entry"]},{x:280,lines:["Trajectory","end"]}]});
  T(g,386,597,"Relative rank",{anchor:"middle"});
  rankLegend(g,362,622,650,8);
  const opts=(means,pts,y0,yTop,range,axisEnd,col,sig)=>({max:1200,y0,yTop,axisX:746.7,axisEnd,range,gPad:0.17,cPad:0.09,
    groups:["Dom","Sub"],conds:["before","entry"],means,pts,n:eN,ticks:eTicks,tickLabels:["0","","1200"],
    styles:[styleGray,filled(col),styleWhiteGray,open(col)],sig});
  const c1=barChart(g,opts(eSelfMeans,eSelfPts,883.2,721,[766,938.3],945,CYAN,eSelfSig));
  const c2=barChart(g,opts(eOtherMeans,eOtherPts,1123,960.7,[766,939.3],946.7,MAG,eOtherSig));
  T(g,856,677,"Self entries (during cue)",{size:21,anchor:"middle"});
  T(g,863,921,"Other entries (during cue)",{size:21,anchor:"middle"});
  [[798,CYAN,692,729],[1040,MAG,946,983]].forEach(([cy,col,s1,s2])=>{
    T(g,709,cy,"Trajectory",{size:21,anchor:"middle",rot:-90}); T(g,727,cy,"length",{size:21,anchor:"middle",rot:-90});
    splitSquare(g,946,s1,22,21,GRAYBAR,LIGHTEDGE); splitSquare(g,946,s2,22,21,col,col);
    twoLine(g,973,s1+5,"Before","entry",20); T(g,973,s2+11,"Entry",{size:21});
  });
  ["Dom","Sub"].forEach(gr=>T(g,c2.gx(gr)+c2.gx.bandwidth()/2,1137,gr,{size:21,anchor:"middle"}));
  T(g,850,1163,"Relative rank",{size:21,anchor:"middle"});
}

/* ===================== PANEL F ===================== */
{
  const g=svg.append("g");
  T(g,1078,624,"f",{size:30,weight:"bold"});
  const x=d3.scaleLinear().domain([0,80]).range([1115.7,1768.4]);
  const y=d3.scaleLinear().domain([0,80]).range([1124.1,666.3]);
  styleAxis(g.append("g").attr("transform","translate(1115.7,0)").call(d3.axisLeft(y).tickValues([0,40,80]).tickFormat(d=>d===40?"":d).tickSize(7).tickSizeOuter(0).tickPadding(3)),23);
  styleAxis(g.append("g").attr("transform","translate(0,1124.1)").call(d3.axisBottom(x).tickValues([0,40,80]).tickFormat(d=>d===40?"":d).tickSize(7).tickSizeOuter(0).tickPadding(8)),23);
  T(g,1457,1150,"P.C. 1 (a.u.)",{size:23,anchor:"middle"});
  T(g,1090,888,"P.C. 2 (a.u.)",{size:23,anchor:"middle",rot:-90});
  const box=(b)=>g.append("rect").attr("x",x(b.x[0])).attr("y",y(b.y[1])).attr("width",x(b.x[1])-x(b.x[0])).attr("height",y(b.y[0])-y(b.y[1]))
    .attr("fill","none").attr("stroke",INK).attr("stroke-width",1.8).attr("stroke-dasharray","6,4");
  box(fSelfDomBox); box(fOtherDomBox);
  traj(g,fSelfSub,fCue.selfSub,x,y,{color:PURP,width:15,gap:9,dotR:1.7,dot:"#fff",open:true,triAngle:180,ms:0.95});
  traj(g,fOtherSub,fCue.otherSub,x,y,{color:ORNG,width:7,gap:20,dotR:1.5,dot:"#fff",open:true,triAngle:180,ms:0.85});
  traj(g,fSelfDom,fCue.selfDom,x,y,{color:PURP,width:10,gap:6,dotR:1.5,dot:"#111",open:false,triAngle:180,ms:0.7});
  traj(g,fOtherDom,fCue.otherDom,x,y,{color:ORNG,width:9,gap:6,dotR:1.5,dot:"#111",open:false,triAngle:90,ms:0.6});
  T(g,1486,748,"Self sub.",{size:23,anchor:"middle"}); T(g,1620,761,"Other sub.",{size:23,anchor:"middle"});
  T(g,1188,979,"Self dom.",{size:23,anchor:"middle"}); T(g,1270,1103,"Other dom.",{size:23,anchor:"middle"});
  [[fSelfDomInset,fCue.selfInset,[1391,1694],[971.3,866.9],PURP,15,180],[fOtherDomInset,fCue.otherInset,[1595.6,1716.2],[1111.2,989.2],ORNG,11,undefined]]
    .forEach(([pts,cue,xr,yr,col,w,ta])=>{
      const ix=d3.scaleLinear().domain([0,100]).range(xr), iy=d3.scaleLinear().domain([0,100]).range(yr);
      g.append("rect").attr("x",xr[0]).attr("y",yr[1]).attr("width",xr[1]-xr[0]).attr("height",yr[0]-yr[1])
        .attr("fill","none").attr("stroke",INK).attr("stroke-width",1.8).attr("stroke-dasharray","7,5");
      traj(g,pts,cue,ix,iy,{color:col,width:w,gap:w>12?26:11,dotR:2,dot:"#111",open:false,triAngle:ta,ms:0.8});
    });
  trajLegend(g,{cx:1144,tx:1242,sx:1326,labelX:1342,headY:[589,608],
    rows:[{y:628,color:PURP,dot:"#d9c2de",label:"Self"},{y:654,color:ORNG,dot:"#b4a39a",label:"Other"}],
    heads:[{x:1144,lines:["Trajectory","start"]},{x:1242,lines:["Port","entry"]},{x:1326,lines:["Trajectory","end"]}]});
  T(g,1471,603,"Relative rank",{anchor:"middle"});
  rankLegend(g,1444,626,651,8);
  const opts=(means,pts,y0,yTop,range,gPad,cPad,col,sig)=>({max:600,y0,yTop,axisX:1810,axisEnd:2003,range,gPad,cPad,
    groups:["Dom","Sub"],conds:["before","entry"],means,pts,n:eN,ticks:fTicks,tickLabels:["0","","600"],tickSize:21,
    styles:[styleGray,filled(col),styleWhiteGray,open(col)],sig});
  const c1=barChart(g,opts(fSelfMeans,fSelfPts,883.2,722.7,[1824,1997],0.16,0.12,PURP,fSelfSig));
  const c2=barChart(g,opts(fOtherMeans,fOtherPts,1123,962.4,[1829,1997],0.13,0.08,ORNG,fOtherSig));
  T(g,1905,666,"Self entry (ITI)",{size:21,anchor:"middle"});
  T(g,1908,927,"Other entry (ITI)",{size:21,anchor:"middle"});
  [[802,PURP,703,751],[1041,ORNG,961,1009]].forEach(([cy,col,s1,s2])=>{
    T(g,1775,cy,"Trajectory",{size:21,anchor:"middle",rot:-90}); T(g,1793,cy,"length",{size:21,anchor:"middle",rot:-90});
    splitSquare(g,2003,s1,22,21,GRAYBAR,LIGHTEDGE); splitSquare(g,2003,s2,22,21,col,col);
    twoLine(g,2031,s1+4,"Before","entry",20); T(g,2031,s2+10,"Entry",{size:21});
  });
  ["Dom","Sub"].forEach(gr=>T(g,c2.gx(gr)+c2.gx.bandwidth()/2,1140,gr,{size:21,anchor:"middle"}));
  T(g,1908,1163,"Relative rank",{size:21,anchor:"middle"});
}
</script>
</body></html>
